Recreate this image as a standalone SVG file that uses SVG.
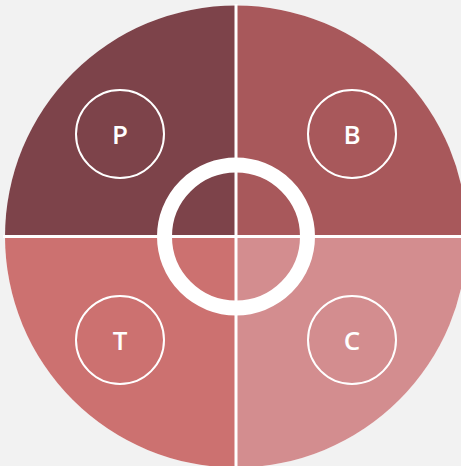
<svg xmlns="http://www.w3.org/2000/svg" width="461" height="466" viewBox="0 0 461 466">
<style>
.q{stroke:none}
.node circle{fill:none;stroke:#ffffff;stroke-width:2}
.node text{fill:#ffffff;font-family:"Open Sans","Noto Sans",sans-serif;font-size:26px;font-weight:600;text-anchor:middle}
.div{stroke:#ffffff;stroke-width:3}
</style>
<rect width="461" height="466" fill="#f2f2f2"/>
<g id="wheel">
<circle cx="236" cy="236.5" r="231" fill="#ffffff"/>
<path class="q" d="M236,236.5 L5,236.5 A231,231 0 0 1 236,5.5 Z" fill="#7d434a"/>
<path class="q" d="M236,236.5 L236,5.5 A231,231 0 0 1 467,236.5 Z" fill="#a8585b"/>
<path class="q" d="M236,236.5 L236,467.5 A231,231 0 0 1 5,236.5 Z" fill="#cc7170"/>
<path class="q" d="M236,236.5 L467,236.5 A231,231 0 0 1 236,467.5 Z" fill="#d38d8f"/>
</g>
<g id="connectors">
<line class="div" x1="236" y1="4" x2="236" y2="470"/>
<line class="div" x1="3" y1="236.5" x2="470" y2="236.5"/>
</g>
<g id="hub">
<circle cx="236" cy="236.5" r="71.5" fill="none" stroke="#ffffff" stroke-width="15"/>
</g>
<g id="node-P" class="node"><circle cx="120" cy="134" r="44"/><text x="120" y="143.5">P</text></g>
<g id="node-B" class="node"><circle cx="352" cy="134" r="44"/><text x="352" y="143.5">B</text></g>
<g id="node-T" class="node"><circle cx="120" cy="340" r="44"/><text x="120" y="349.5">T</text></g>
<g id="node-C" class="node"><circle cx="352" cy="340" r="44"/><text x="352" y="349.5">C</text></g>
</svg>
